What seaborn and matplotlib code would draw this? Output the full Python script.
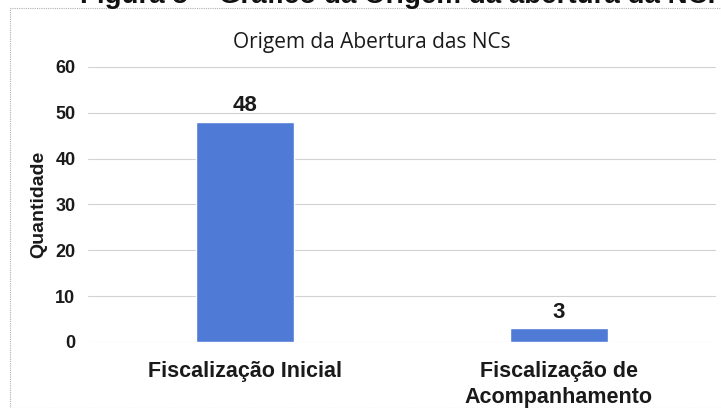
import matplotlib
matplotlib.use("Agg")
import matplotlib.pyplot as plt
import seaborn as sns
import pandas as pd
from matplotlib.patches import Rectangle

categories = ["Fiscalização Inicial", "Fiscalização de\nAcompanhamento"]
values = [48, 3]
yticks = [0, 10, 20, 30, 40, 50, 60]
title = "Origem da Abertura das NCs"
ylabel = "Quantidade"
caption = "Figura 5 – Gráfico da Origem da abertura da NC."

sns.set_theme(style="white")
plt.rcParams['font.family'] = ['Liberation Sans', 'DejaVu Sans']

df = pd.DataFrame({"cat": categories, "val": values})

fig = plt.figure(figsize=(7.21, 4.08), dpi=100)
ax = fig.add_axes([0.122, 0.162, 0.871, 0.674])

sns.barplot(data=df, x="cat", y="val", color="#4f7bd6", width=0.31,
            saturation=1, ax=ax, zorder=3)
ax.set_ylim(0, 60)
ax.set_xlim(-0.5, 1.5)
ax.set_yticks(yticks)
ax.set_yticklabels([str(t) for t in yticks], fontsize=13, fontweight="bold", color="#1a1a1a")
ax.tick_params(axis="x", labelsize=15.5, pad=14, length=0)
ax.tick_params(axis="y", length=0, pad=9)
for lab in ax.get_xticklabels():
    lab.set_fontweight("bold")
    lab.set_color("#1a1a1a")
    lab.set_linespacing(1.3)
ax.set_xlabel("")
ax.set_ylabel(ylabel, fontsize=14, fontweight="bold", color="#1a1a1a", labelpad=6)
ax.grid(axis="y", color="#d2d2d2", lw=0.8, zorder=0)
for s in ax.spines.values():
    s.set_visible(False)

for i, v in enumerate(values):
    ax.text(i, v + 1.2, str(v), ha="center", va="bottom", fontsize=16,
            fontweight="bold", color="#1a1a1a")

fig.text(0.515, 0.895, title, ha="center", va="center", fontsize=15,
         family=["Open Sans", "DejaVu Sans"], color="#1a1a1a")

fig.text(0.551, 0.993, caption, ha="center", va="baseline", fontsize=20,
         fontweight="bold", color="#111111")

fig.patches.append(Rectangle((10/721, 0.0), 1.2, (408 - 8) / 408,
                             transform=fig.transFigure, fill=False,
                             edgecolor="#b0b0b0", lw=0.8, ls=(0, (1, 1))))

fig.savefig("out.png", dpi=100)
